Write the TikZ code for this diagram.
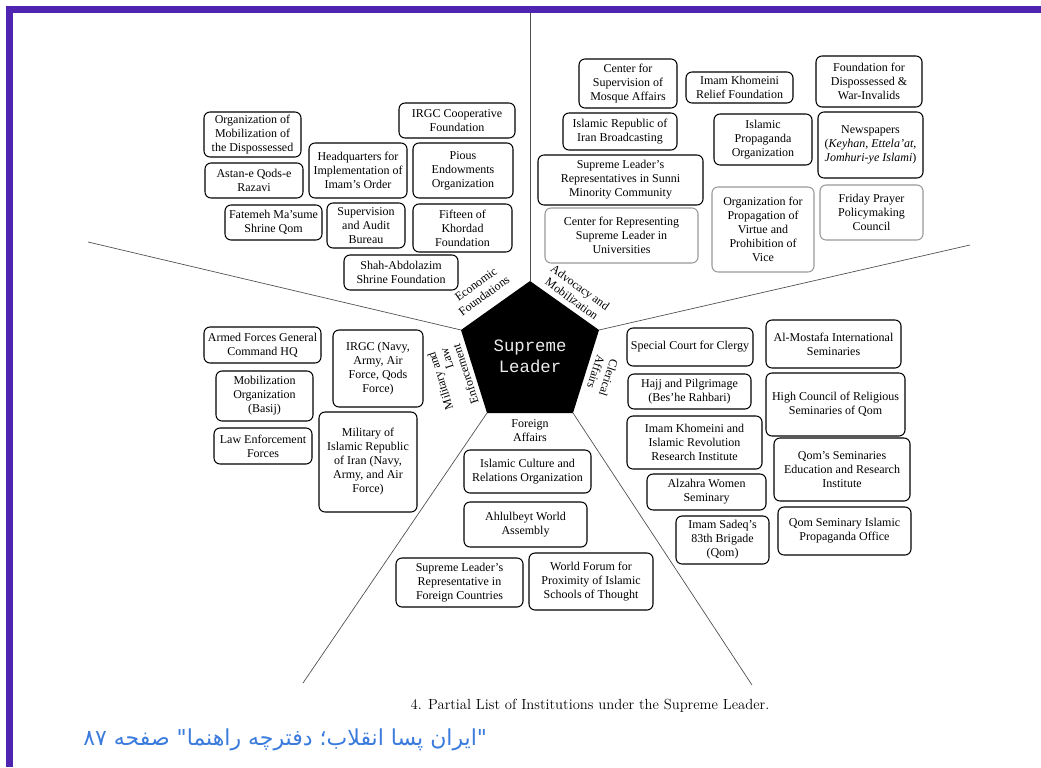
\documentclass[tikz,border=0pt]{standalone}
\usepackage{fontspec}
\TeXXeTstate=1
\newfontfamily\bxf{Liberation Serif}
\newfontfamily\monof{Liberation Mono}
\newfontfamily\arabicfont[Script=Arabic]{DejaVu Sans}
\definecolor{framecol}{RGB}{78,36,176}
\definecolor{pblue}{RGB}{58,123,221}
\tikzset{
  box/.style={draw, rounded corners=4.5pt, line width=0.8pt, align=center, inner sep=1pt,
    font=\bxf\fontsize{9}{10.5}\selectfont},
  gbox/.style={draw=gray!80},
  catlbl/.style={align=center, inner sep=0pt, font=\bxf\fontsize{9}{10.5}\selectfont},
  divider/.style={draw=gray!60!black, line width=0.5pt},
}
\newcommand\bx[7][]{\node[box,#1,minimum width={(#5-#3)*0.75pt},minimum height={(#6-#4)*0.75pt}] (#2) at ({(#3+#5)/2},{(#4+#6)/2}) {#7};}
\begin{document}
\begin{tikzpicture}[x=0.75pt,y=-0.75pt]
\useasboundingbox (0,0) rectangle (1041,767);
\fill[white] (0,0) rectangle (1041,767);
% frame
\fill[framecol] (6,6) rectangle (1041,13);
\fill[framecol] (6,6) rectangle (13,767);
% pentagon vertices and divider ends
\coordinate (pT) at (530,281);
\coordinate (pUL) at (461,330);
\coordinate (pUR) at (599,330);
\coordinate (pLL) at (487,413);
\coordinate (pLR) at (573,413);
\coordinate (dT) at (530,13);
\coordinate (dUL) at (88,242);
\coordinate (dUR) at (970,245);
\coordinate (dLL) at (303,683);
\coordinate (dLR) at (752,685);
\draw[divider] (pT) -- (dT);
\draw[divider] (pUL) -- (dUL);
\draw[divider] (pUR) -- (dUR);
\draw[divider] (pLL) -- (dLL);
\draw[divider] (pLR) -- (dLR);
\fill[black] (pT) -- (pUR) -- (pLR) -- (pLL) -- (pUL) -- cycle;
\node[align=center, text=gray!15, font=\monof\fontsize{13}{15.75}\selectfont, inner sep=0pt] (sl) at (530,356) {Supreme\\Leader};
% category labels
\node[catlbl, rotate=36] (catE) at (480,290) {Economic\\Foundations};
\node[catlbl, rotate=-36] (catA) at (576,293) {Advocacy and\\Mobilization};
\node[catlbl, rotate=-108, align=left] (catC) at (602,376) {Clerical\\Affairs};
\node[catlbl, rotate=108, align=right, font=\bxf\fontsize{9}{9.8}\selectfont] (catM) at (453,378) {Military and\\Law\\Enforcement};
\node[catlbl] (catF) at (530,431) {Foreign\\Affairs};
% economic
\bx{e1}{204}{112}{301}{157}{Organization of\\Mobilization of\\the Dispossessed}
\bx{e2}{399}{103}{515}{138}{IRGC Cooperative\\Foundation}
\bx{e3}{205}{163}{303}{198}{Astan-e Qods-e\\Razavi}
\bx{e4}{309}{143}{407}{198}{Headquarters for\\Implementation of\\Imam’s Order}
\bx{e5}{413}{143}{513}{198}{Pious\\Endowments\\Organization}
\bx{e6}{225}{205}{322}{240}{Fatemeh Ma’sume\\Shrine Qom}
\bx{e7}{327}{203}{405}{248}{Supervision\\and Audit\\Bureau}
\bx{e8}{413}{204}{512}{252}{Fifteen of\\Khordad\\Foundation}
\bx{e9}{344}{255}{458}{290}{Shah-Abdolazim\\Shrine Foundation}
% advocacy
\bx{a1}{579}{59}{677}{108}{Center for\\Supervision of\\Mosque Affairs}
\bx{a2}{686}{72}{793}{103}{Imam Khomeini\\Relief Foundation}
\bx{a3}{816}{56}{922}{107}{Foundation for\\Dispossessed \&\\War-Invalids}
\bx{a4}{563}{113}{677}{150}{Islamic Republic of\\Iran Broadcasting}
\bx{a5}{714}{114}{812}{165}{Islamic\\Propaganda\\Organization}
\bx{a6}{818}{112}{923}{178}{Newspapers\\(\textit{Keyhan}, \textit{Ettela’at},\\\textit{Jomhuri-ye Islami})}
\bx{a7}{538}{155}{703}{205}{Supreme Leader’s\\Representatives in Sunni\\Minority Community}
\bx[gbox]{a8}{545}{208}{698}{263}{Center for Representing\\Supreme Leader in\\Universities}
\bx[gbox]{a9}{712}{187}{814}{272}{Organization for\\Propagation of\\Virtue and\\Prohibition of\\Vice}
\bx[gbox]{a10}{820}{185}{923}{240}{Friday Prayer\\Policymaking\\Council}
% military
\bx{m1}{204}{327}{321}{363}{Armed Forces General\\Command HQ}
\bx{m2}{216}{371}{313}{421}{Mobilization\\Organization\\(Basij)}
\bx{m3}{214}{428}{312}{464}{Law Enforcement\\Forces}
\bx{m4}{333}{330}{423}{407}{IRGC (Navy,\\Army, Air\\Force, Qods\\Force)}
\bx{m5}{319}{412}{417}{512}{Military of\\Islamic Republic\\of Iran (Navy,\\Army, and Air\\Force)}
% clerical
\bx{c1}{627}{328}{753}{366}{Special Court for Clergy}
\bx{c2}{766}{320}{901}{368}{Al-Mostafa International\\Seminaries}
\bx{c3}{628}{374}{751}{409}{Hajj and Pilgrimage\\(Bes’he Rahbari)}
\bx{c4}{766}{373}{905}{436}{High Council of Religious\\Seminaries of Qom}
\bx{c5}{627}{416}{762}{469}{Imam Khomeini and\\Islamic Revolution\\Research Institute}
\bx{c6}{774}{438}{910}{501}{Qom’s Seminaries\\Education and Research\\Institute}
\bx{c7}{647}{474}{766}{510}{Alzahra Women\\Seminary}
\bx{c8}{676}{516}{769}{564}{Imam Sadeq’s\\83th Brigade\\(Qom)}
\bx{c9}{778}{507}{911}{555}{Qom Seminary Islamic\\Propaganda Office}
% foreign
\bx{f1}{464}{450}{591}{493}{Islamic Culture and\\Relations Organization}
\bx{f2}{464}{502}{587}{547}{Ahlulbeyt World\\Assembly}
\bx{f3}{396}{558}{523}{607}{Supreme Leader’s\\Representative in\\Foreign Countries}
\bx{f4}{529}{553}{653}{610}{World Forum for\\Proximity of Islamic\\Schools of Thought}
% caption
\node[inner sep=0pt, font=\fontsize{11}{13}\selectfont] (cap) at (590,706) {4. Partial List of Institutions under the Supreme Leader.};
\node[anchor=west, inner sep=0pt, text=pblue, font=\arabicfont\fontsize{16.5}{19}\selectfont] (src) at (83,740) {\beginR "ایران پسا انقلاب؛ دفترچه راهنما" صفحه ۸۷\endR};
\end{tikzpicture}
\end{document}
